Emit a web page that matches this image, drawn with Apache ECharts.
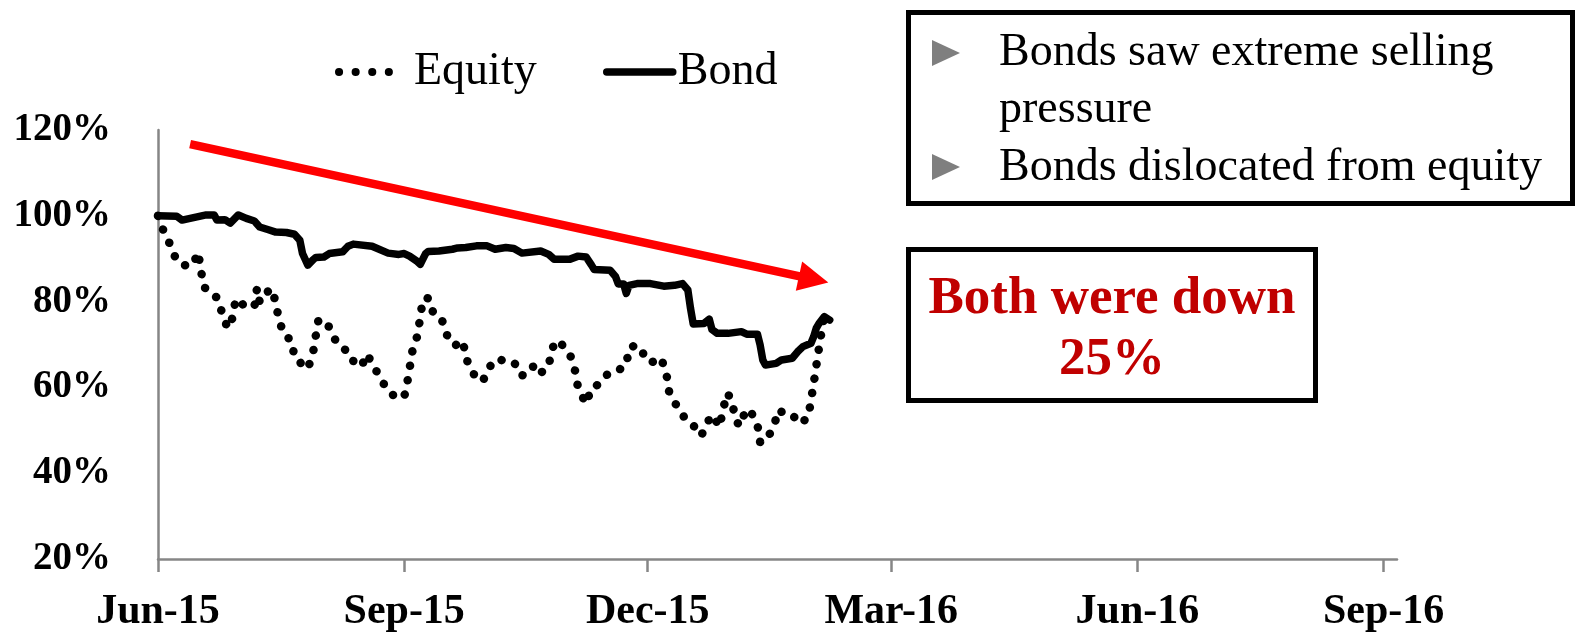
<!DOCTYPE html>
<html>
<head>
<meta charset="utf-8">
<script src="https://cdn.jsdelivr.net/npm/echarts@6/dist/echarts.min.js"></script>
<style>
html,body{margin:0;padding:0;background:#fff;}
#chart{width:1578px;height:640px;}
</style>
</head>
<body>
<div id="chart"></div>
<script>
// ---------------- DATA ----------------
const tickDates = ['2015-06-01','2015-09-01','2015-12-01','2016-03-01','2016-06-01','2016-09-01'];
const tickLabels = ['Jun-15','Sep-15','Dec-15','Mar-16','Jun-16','Sep-16'];
const yTicks = [20, 40, 60, 80, 100, 120];

const equityDates = ['2015-06-01','2015-06-03','2015-06-06','2015-06-08','2015-06-11','2015-06-14','2015-06-16','2015-06-17','2015-06-18','2015-06-21',
'2015-06-23','2015-06-25','2015-06-27','2015-06-29','2015-06-30','2015-07-03','2015-07-07','2015-07-08','2015-07-09','2015-07-13',
'2015-07-15','2015-07-16','2015-07-18','2015-07-21','2015-07-22','2015-07-27','2015-07-29','2015-07-30','2015-07-31','2015-08-04',
'2015-08-05','2015-08-07','2015-08-11','2015-08-12','2015-08-16','2015-08-18','2015-08-20','2015-08-23','2015-08-26','2015-08-29',
'2015-09-01','2015-09-02','2015-09-03','2015-09-04','2015-09-06','2015-09-07','2015-09-08','2015-09-10','2015-09-12','2015-09-15',
'2015-09-17','2015-09-20','2015-09-22','2015-09-23','2015-09-24','2015-09-27','2015-09-28','2015-09-30','2015-10-02','2015-10-04',
'2015-10-07','2015-10-12','2015-10-15','2015-10-19','2015-10-21','2015-10-25','2015-10-26','2015-10-28','2015-10-31','2015-11-02',
'2015-11-04','2015-11-05','2015-11-08','2015-11-10','2015-11-13','2015-11-16','2015-11-19','2015-11-23','2015-11-24','2015-11-27',
'2015-11-30','2015-12-02','2015-12-06','2015-12-08','2015-12-09','2015-12-12','2015-12-15','2015-12-17','2015-12-21','2015-12-23',
'2015-12-25','2015-12-28','2015-12-29','2015-12-31','2016-01-02','2016-01-04','2016-01-06','2016-01-08','2016-01-11','2016-01-12',
'2016-01-14','2016-01-17','2016-01-19','2016-01-21','2016-01-24','2016-01-27','2016-01-30','2016-01-31','2016-02-01','2016-02-02',
'2016-02-03','2016-02-04','2016-02-05'];
const equityValues = [100.0,96.6,92.7,89.4,88.5,88.5,91.5,87.6,83.6,81.5,
81.0,77.3,73.8,76.4,80.6,79.2,78.7,83.1,79.9,83.1,
80.1,76.2,72.4,70.8,66.9,64.3,68.3,72.2,75.9,74.1,
72.7,70.1,68.3,66.6,64.8,67.8,65.7,62.2,59.2,57.6,
57.8,60.6,64.3,68.3,72.2,76.4,80.6,80.8,77.1,75.9,
72.2,69.7,70.8,70.8,66.9,63.1,62.4,61.3,63.1,66.2,
66.4,65.9,62.7,65.0,62.9,64.8,68.7,71.0,69.4,67.6,
63.6,59.7,56.2,59.9,60.8,63.1,63.6,65.2,69.2,69.9,
67.3,65.7,66.9,63.1,59.0,55.5,52.7,52.0,48.7,51.5,
53.6,50.8,54.8,58.7,55.0,51.0,53.6,55.0,51.3,47.3,
47.3,50.8,54.8,53.8,53.6,51.5,53.1,56.9,60.8,65.0,
69.2,73.1,76.6];

const bondDates = ['2015-06-01','2015-06-08','2015-06-10','2015-06-13','2015-06-19','2015-06-22','2015-06-23','2015-06-26','2015-06-28','2015-07-01',
'2015-07-04','2015-07-07','2015-07-09','2015-07-12','2015-07-15','2015-07-19','2015-07-22','2015-07-24','2015-07-25','2015-07-27',
'2015-07-29','2015-07-30','2015-08-02','2015-08-04','2015-08-09','2015-08-11','2015-08-13','2015-08-20','2015-08-26','2015-08-30',
'2015-09-01','2015-09-03','2015-09-06','2015-09-07','2015-09-09','2015-09-10','2015-09-14','2015-09-19','2015-09-21','2015-09-24',
'2015-09-28','2015-10-02','2015-10-05','2015-10-09','2015-10-12','2015-10-15','2015-10-22','2015-10-25','2015-10-27','2015-11-02',
'2015-11-05','2015-11-08','2015-11-10','2015-11-11','2015-11-17','2015-11-19','2015-11-20','2015-11-22','2015-11-23','2015-11-24',
'2015-11-27','2015-12-02','2015-12-07','2015-12-11','2015-12-14','2015-12-16','2015-12-17','2015-12-18','2015-12-22','2015-12-24',
'2015-12-25','2015-12-27','2015-12-31','2016-01-05','2016-01-07','2016-01-11','2016-01-12','2016-01-13','2016-01-14','2016-01-18',
'2016-01-20','2016-01-24','2016-01-26','2016-01-28','2016-01-31','2016-02-01','2016-02-02','2016-02-03','2016-02-05','2016-02-07'];
const bondValues = [100.0,99.9,99.0,99.4,100.2,100.2,99.0,99.1,98.3,100.2,
99.4,98.8,97.4,96.8,96.2,96.1,95.7,94.3,91.2,88.5,
89.8,90.3,90.4,91.2,91.6,92.9,93.4,92.9,91.3,91.0,
91.2,90.6,89.3,88.7,91.2,91.7,91.8,92.2,92.5,92.6,
93.0,93.0,92.2,92.6,92.4,91.3,91.8,91.0,89.9,89.9,
90.6,90.4,88.5,87.5,87.3,85.8,84.1,84.1,81.9,83.8,
84.2,84.2,83.6,83.8,84.2,82.7,78.4,74.8,74.9,75.9,
73.5,72.6,72.6,73.0,72.4,72.4,69.9,66.4,65.2,65.6,
66.4,66.8,68.3,69.5,70.3,71.8,73.8,74.9,76.5,75.7];

const arrowFrom = ['2015-06-13', 116.7];
const arrowTo = ['2016-02-01', 85.2];

const seriesNames = ['Equity', 'Bond'];
const noteLines = ['Bonds saw extreme selling', 'pressure', 'Bonds dislocated from equity'];
const calloutLines = ['Both were down', '25%'];

// ---------------- HELPERS ----------------
function toTs(s) { const p = s.split('-').map(Number); return Date.UTC(p[0], p[1] - 1, p[2]); }
function pairs(dates, vals) { return dates.map((d, i) => [toTs(d), vals[i]]); }
const tickTimes = tickDates.map(toTs);

const serif = '"Liberation Serif", "DejaVu Serif", serif';
const axisGray = '#868686';
const hiddenItem = { color: 'rgba(0,0,0,0)', borderColor: 'rgba(0,0,0,0)', borderWidth: 0, opacity: 0 };

const chart = echarts.init(document.getElementById('chart'), null, { renderer: 'canvas' });

const option = {
  animation: false,
  backgroundColor: '#ffffff',
  color: ['#000000', '#000000'],
  grid: { left: 158, right: 181, top: 130, bottom: 81, containLabel: false },
  legend: [
    {
      data: [{ name: seriesNames[0],
               itemStyle: hiddenItem,
               lineStyle: { color: '#000', width: 8, cap: 'round', type: [0.1, 16.5, 0.1, 16.5, 0.1, 16.5, 0.1, 200] } }],
      left: 330, top: 44, itemWidth: 70, itemHeight: 20,
      itemStyle: hiddenItem,
      textStyle: { fontFamily: serif, fontSize: 46, color: '#000' },
      selectedMode: false
    },
    {
      data: [{ name: seriesNames[1],
               itemStyle: hiddenItem,
               lineStyle: { color: '#000', width: 7.5, cap: 'round', type: 'solid' } }],
      left: 598, top: 44, itemWidth: 66, itemHeight: 20,
      itemStyle: hiddenItem,
      textStyle: { fontFamily: serif, fontSize: 46, color: '#000' },
      selectedMode: false
    }
  ],
  xAxis: {
    type: 'value',
    min: toTs('2015-06-01'),
    max: toTs('2016-09-06'),
    splitLine: { show: false },
    axisLine: { show: true, lineStyle: { color: axisGray, width: 2.5 } },
    axisTick: { show: true, length: 13, lineStyle: { color: axisGray, width: 2.5 }, customValues: tickTimes },
    axisLabel: {
      customValues: tickTimes,
      margin: 32,
      fontFamily: serif, fontSize: 42, fontWeight: 'bold', color: '#000',
      formatter: function (v) {
        let best = 0, bd = Infinity;
        tickTimes.forEach((t, i) => { const dd = Math.abs(t - v); if (dd < bd) { bd = dd; best = i; } });
        return tickLabels[best];
      }
    }
  },
  yAxis: {
    type: 'value',
    min: yTicks[0], max: yTicks[yTicks.length - 1], interval: 20,
    splitLine: { show: false },
    axisLine: { show: true, lineStyle: { color: axisGray, width: 2.5 } },
    axisTick: { show: false },
    axisLabel: {
      margin: 47,
      fontFamily: serif, fontSize: 39, fontWeight: 'bold', color: '#000',
      formatter: '{value}%'
    }
  },
  series: [
    {
      name: seriesNames[0],
      type: 'line',
      data: pairs(equityDates, equityValues),
      showSymbol: false, symbol: 'none',
      silent: true,
      itemStyle: { color: '#000' },
      emphasis: { disabled: true },
      lineStyle: { color: '#000000', width: 8.5, type: [0.1, 14.5], cap: 'round', join: 'round' },
      z: 2
    },
    {
      name: seriesNames[1],
      type: 'line',
      data: pairs(bondDates, bondValues),
      showSymbol: false, symbol: 'none',
      silent: true,
      itemStyle: { color: '#000' },
      emphasis: { disabled: true },
      lineStyle: { color: '#000000', width: 7.5, type: 'solid', cap: 'round', join: 'round' },
      z: 3,
      markLine: {
        silent: true,
        z: 10,
        symbol: ['none', 'triangle'],
        symbolSize: 30,
        label: { show: false },
        emphasis: { disabled: true },
        itemStyle: { color: '#FF0000' },
        lineStyle: { color: '#FF0000', width: 8.5, type: 'solid', cap: 'butt' },
        data: [[
          { coord: [toTs(arrowFrom[0]), arrowFrom[1]], symbol: 'none' },
          { coord: [toTs(arrowTo[0]), arrowTo[1]], symbol: 'triangle', symbolSize: 30 }
        ]]
      }
    }
  ],
  graphic: [
    { type: 'rect', shape: { x: 908.5, y: 12.5, width: 664, height: 191 },
      style: { fill: '#ffffff', stroke: '#000000', lineWidth: 5 }, silent: true, z: 20 },
    { type: 'polygon', shape: { points: [[932, 40], [960, 53], [932, 66]] }, style: { fill: '#7f7f7f' }, silent: true, z: 21 },
    { type: 'polygon', shape: { points: [[932, 154], [960, 167], [932, 180]] }, style: { fill: '#7f7f7f' }, silent: true, z: 21 },
    { type: 'text', x: 999, y: 53, silent: true, z: 21,
      style: { text: noteLines[0], font: '46px ' + serif, fill: '#000', textAlign: 'left', textVerticalAlign: 'middle' } },
    { type: 'text', x: 999, y: 110, silent: true, z: 21,
      style: { text: noteLines[1], font: '46px ' + serif, fill: '#000', textAlign: 'left', textVerticalAlign: 'middle' } },
    { type: 'text', x: 999, y: 168, silent: true, z: 21,
      style: { text: noteLines[2], font: '46px ' + serif, fill: '#000', textAlign: 'left', textVerticalAlign: 'middle' } },
    { type: 'rect', shape: { x: 908.5, y: 249.5, width: 407, height: 151 },
      style: { fill: '#ffffff', stroke: '#000000', lineWidth: 5 }, silent: true, z: 20 },
    { type: 'text', x: 1112, y: 299, silent: true, z: 21,
      style: { text: calloutLines[0], font: 'bold 53px ' + serif, fill: '#C00000', textAlign: 'center', textVerticalAlign: 'middle' } },
    { type: 'text', x: 1112, y: 360, silent: true, z: 21,
      style: { text: calloutLines[1], font: 'bold 53px ' + serif, fill: '#C00000', textAlign: 'center', textVerticalAlign: 'middle' } }
  ]
};

chart.setOption(option);
</script>
</body>
</html>
